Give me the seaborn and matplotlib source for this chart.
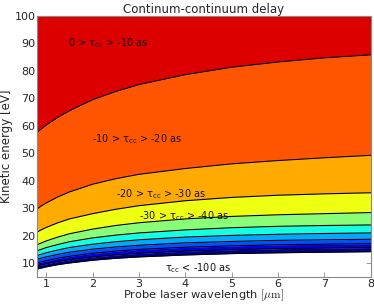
import matplotlib
matplotlib.use("Agg")
import matplotlib.pyplot as plt
import seaborn as sns
import pandas as pd

# Probe wavelength grid [um]
wavelength = [0.8, 0.9, 1.0, 1.25, 1.5, 2.0, 2.5, 3.0, 4.0, 5.0, 6.0, 7.0, 8.0]

# Kinetic energy [eV] of each iso-delay contour (tau_cc = level)
levels = [-10, -20, -30, -40, -50, -60, -70, -80, -90, -100]
e_m10 = [57.6, 59.0, 60.3, 63.1, 65.5, 69.5, 72.5, 75.0, 78.6, 81.3, 83.2, 84.7, 85.8]
e_m20 = [29.8, 31.0, 32.0, 34.2, 36.0, 38.8, 40.8, 42.4, 44.5, 46.2, 47.4, 48.4, 49.3]
e_m30 = [21.4, 22.3, 23.1, 24.8, 26.2, 28.1, 29.7, 31.0, 32.8, 34.0, 34.8, 35.3, 35.7]
e_m40 = [16.8, 17.5, 18.2, 19.6, 20.8, 22.5, 23.8, 24.8, 26.2, 27.1, 27.7, 28.1, 28.5]
e_m50 = [14.6, 15.2, 15.8, 16.9, 17.9, 19.3, 20.3, 21.1, 22.2, 23.0, 23.5, 23.8, 24.0]
e_m60 = [12.9, 13.4, 13.9, 14.9, 15.8, 17.0, 17.9, 18.6, 19.6, 20.2, 20.6, 20.9, 21.1]
e_m70 = [11.5, 12.0, 12.4, 13.3, 14.1, 15.2, 16.0, 16.6, 17.5, 18.0, 18.4, 18.6, 18.8]
e_m80 = [10.2, 10.6, 11.0, 11.9, 12.6, 13.7, 14.5, 15.1, 15.9, 16.4, 16.8, 17.0, 17.2]
e_m90 = [9.1, 9.5, 9.9, 10.7, 11.4, 12.4, 13.1, 13.7, 14.5, 15.0, 15.4, 15.6, 15.8]
e_m100 = [8.0, 8.4, 8.8, 9.6, 10.2, 11.2, 11.9, 12.4, 13.1, 13.6, 13.9, 14.1, 14.3]
e_top = [100.0] * len(wavelength)

# band colours from top (0..-10) to bottom (-90..-100)
band_colors = ["#DD0000", "#FF5500", "#FFAA00", "#EEFF11", "#88FF77",
               "#15FFE2", "#00A8FF", "#0050FF", "#0000F0", "#00008F"]

band_labels = ["0 > τ$_{\\mathrm{cc}}$ > -10 as", "-10 > τ$_{\\mathrm{cc}}$ > -20 as",
               "-20 > τ$_{\\mathrm{cc}}$ > -30 as", "-30 > τ$_{\\mathrm{cc}}$ > -40 as",
               "τ$_{\\mathrm{cc}}$ < -100 as"]
label_x = [1.46, 1.98, 2.50, 3.00, 3.57]
label_y = [90.0, 55.1, 35.2, 27.3, 8.2]

sns.set_style("ticks")
plt.rcParams["font.family"] = ["DejaVu Sans"]
plt.rcParams["mathtext.fontset"] = "dejavusans"

fig = plt.figure(figsize=(3.74, 3.04), dpi=100)
ax = fig.add_axes([0.099, 0.088, 0.892, 0.860])

bounds = [e_top, e_m10, e_m20, e_m30, e_m40, e_m50, e_m60, e_m70, e_m80, e_m90, e_m100]
for i, col in enumerate(band_colors):
    ax.fill_between(wavelength, bounds[i + 1], bounds[i], color=col, linewidth=0)

rows = []
for lev, b in zip(levels, bounds[1:]):
    for w, e in zip(wavelength, b):
        rows.append({"wavelength": w, "energy": e, "level": lev})
df = pd.DataFrame(rows)
for lev, sub in df.groupby("level"):
    sns.lineplot(data=sub, x="wavelength", y="energy", color="black",
                 linewidth=0.8, ax=ax, legend=False, sort=True)

for txt, x, y in zip(band_labels, label_x, label_y):
    ax.text(x, y, txt, fontsize=7, ha="left", va="center", color="#111111")

ax.set_xlim(0.8, 8)
ax.set_ylim(5, 100)
ax.set_xticks(range(1, 9))
ax.set_yticks(range(10, 101, 10))
ax.tick_params(direction="in", top=True, right=True, labelsize=8, length=3.5,
               width=0.6, color="#888888", pad=1.0)
for s in ax.spines.values():
    s.set_color("#888888")
    s.set_linewidth(0.8)
ax.set_title("Continum-continuum delay", fontsize=8.5, pad=2)
ax.set_xlabel(r"Probe laser wavelength $[\mu\mathrm{m}]$", fontsize=8.2, labelpad=-0.5,
              math_fontfamily="cm")
ax.set_ylabel("Kinetic energy [eV]", fontsize=8.5, labelpad=1)

fig.savefig("out.png", dpi=100)
